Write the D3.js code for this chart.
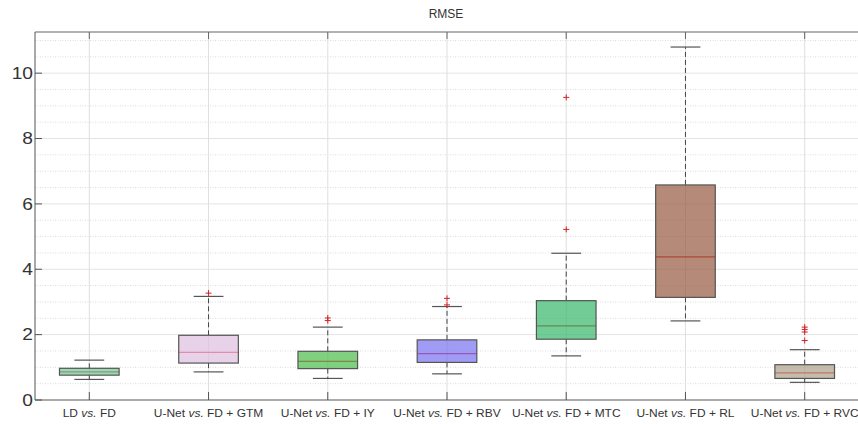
<!DOCTYPE html>
<html>
<head>
<meta charset="utf-8">
<script src="https://cdn.jsdelivr.net/npm/d3@7"></script>
<style>
  body { margin: 0; background: #fff; }
  text { font-family: "Liberation Sans", Arial, Helvetica, sans-serif; fill: #333; }
</style>
</head>
<body>
<div id="chart"></div>
<script>
// RMSE per method (box plot summary)
const categories = ["LD|FD", "U-Net|FD + GTM", "U-Net|FD + IY", "U-Net|FD + RBV",
                    "U-Net|FD + MTC", "U-Net|FD + RL", "U-Net|FD + RVC"];
const whiskerLow  = [0.63, 0.86, 0.66, 0.80, 1.35, 2.42, 0.54];
const q1          = [0.76, 1.13, 0.96, 1.15, 1.86, 3.14, 0.66];
const median      = [0.86, 1.46, 1.18, 1.42, 2.27, 4.38, 0.83];
const q3          = [0.97, 1.98, 1.49, 1.84, 3.04, 6.58, 1.08];
const whiskerHigh = [1.22, 3.17, 2.23, 2.86, 4.49, 10.8, 1.54];
const outliers    = [[], [3.27], [2.43, 2.51], [2.91, 3.11], [5.22, 9.26], [], [1.82, 2.08, 2.16, 2.23]];
const colors = ["#6fc995", "#debfe1", "#4cba4c", "#7770f1", "#36b668", "#97583f", "#ae9f87"];
const yTicks = [0, 2, 4, 6, 8, 10];

const width = 858, height = 424;
const mLeft = 35, mRight = 858, mTop = 32, mBottom = 400;

const svg = d3.select("#chart").append("svg")
  .attr("width", width).attr("height", height);

const x = d3.scaleLinear().domain([0, 6]).range([89.3, 804.7]);
const step = x(1) - x(0);
const y = d3.scaleLinear().domain([0, 11.26]).range([mBottom, mTop]);

// grid
const minor = d3.range(0.5, 11.26, 0.5).filter(v => v % 2 !== 0);
svg.append("g").selectAll("line").data(minor).join("line")
  .attr("x1", mLeft).attr("x2", mRight)
  .attr("y1", d => y(d)).attr("y2", d => y(d))
  .attr("stroke", "#dcdcdc").attr("stroke-width", 1)
  .attr("stroke-dasharray", "1,1.5");
svg.append("g").selectAll("line").data(yTicks.slice(1)).join("line")
  .attr("x1", mLeft).attr("x2", mRight)
  .attr("y1", d => y(d)).attr("y2", d => y(d))
  .attr("stroke", "#e4e4e4").attr("stroke-width", 1);
svg.append("g").selectAll("line").data(categories).join("line")
  .attr("x1", (d, i) => x(i)).attr("x2", (d, i) => x(i))
  .attr("y1", mTop).attr("y2", mBottom)
  .attr("stroke", "#dedede").attr("stroke-width", 1);

// boxes
const g = svg.append("g").selectAll("g").data(categories).join("g");
const bw = step * 0.5, cw = step * 0.25;

g.append("line") // upper whisker
  .attr("x1", (d, i) => x(i)).attr("x2", (d, i) => x(i))
  .attr("y1", (d, i) => y(q3[i])).attr("y2", (d, i) => y(whiskerHigh[i]))
  .attr("stroke", "#444").attr("stroke-dasharray", "5,3");
g.append("line") // lower whisker
  .attr("x1", (d, i) => x(i)).attr("x2", (d, i) => x(i))
  .attr("y1", (d, i) => y(q1[i])).attr("y2", (d, i) => y(whiskerLow[i]))
  .attr("stroke", "#444").attr("stroke-dasharray", "5,3");
[whiskerHigh, whiskerLow].forEach(arr => {
  g.append("line")
    .attr("x1", (d, i) => x(i) - cw / 2).attr("x2", (d, i) => x(i) + cw / 2)
    .attr("y1", (d, i) => y(arr[i])).attr("y2", (d, i) => y(arr[i]))
    .attr("stroke", "#555").attr("stroke-width", 1.2);
});
g.append("line") // median
  .attr("x1", (d, i) => x(i) - bw / 2).attr("x2", (d, i) => x(i) + bw / 2)
  .attr("y1", (d, i) => y(median[i])).attr("y2", (d, i) => y(median[i]))
  .attr("stroke", "#dd2222").attr("stroke-width", 1.2);
g.append("rect")
  .attr("x", (d, i) => x(i) - bw / 2).attr("width", bw)
  .attr("y", (d, i) => y(q3[i])).attr("height", (d, i) => y(q1[i]) - y(q3[i]))
  .attr("fill", (d, i) => colors[i]).attr("fill-opacity", 0.7)
  .attr("stroke", "#555").attr("stroke-width", 1.2);

// outliers
const pts = outliers.flatMap((arr, i) => arr.map(v => ({ i, v })));
svg.append("g").selectAll("path").data(pts).join("path")
  .attr("d", d => `M${x(d.i) - 3},${y(d.v)}h6M${x(d.i)},${y(d.v) - 3}v6`)
  .attr("stroke", "#d62020").attr("stroke-width", 1);

// axes
svg.append("line").attr("x1", mLeft).attr("x2", mRight).attr("y1", mTop).attr("y2", mTop)
  .attr("stroke", "#999").attr("stroke-width", 1.5);
svg.append("line").attr("x1", mLeft).attr("x2", mRight).attr("y1", mBottom).attr("y2", mBottom)
  .attr("stroke", "#555").attr("stroke-width", 1);
svg.append("line").attr("x1", mLeft).attr("x2", mLeft).attr("y1", mTop).attr("y2", mBottom)
  .attr("stroke", "#555").attr("stroke-width", 1);

// ticks
svg.append("g").selectAll("line").data(yTicks).join("line")
  .attr("x1", mLeft).attr("x2", mLeft + 7)
  .attr("y1", d => y(d)).attr("y2", d => y(d))
  .attr("stroke", "#555");
svg.append("g").selectAll("line").data(categories).join("line")
  .attr("x1", (d, i) => x(i)).attr("x2", (d, i) => x(i))
  .attr("y1", mBottom).attr("y2", mBottom - 8)
  .attr("stroke", "#555");
svg.append("g").selectAll("line").data(categories).join("line")
  .attr("x1", (d, i) => x(i)).attr("x2", (d, i) => x(i))
  .attr("y1", mTop).attr("y2", mTop + 7)
  .attr("stroke", "#666");

// tick labels
svg.append("g").selectAll("text").data(yTicks).join("text")
  .attr("transform", d => `translate(33,${y(d) + 5.8}) scale(1.2,1)`)
  .attr("text-anchor", "end")
  .style("font-size", "16px")
  .text(d => d);

const xl = svg.append("g").selectAll("text").data(categories).join("text")
  .attr("transform", (d, i) => `translate(${x(i)},417) scale(1.14,1)`)
  .attr("text-anchor", "middle")
  .style("font-size", "10.5px");
xl.append("tspan").text(d => d.split("|")[0] + " ");
xl.append("tspan").style("font-style", "italic").text("vs.");
xl.append("tspan").text(d => " " + d.split("|")[1]);

svg.append("text")
  .attr("x", 446).attr("y", 18)
  .attr("text-anchor", "middle")
  .style("font-size", "12px")
  .text("RMSE");
</script>
</body>
</html>
